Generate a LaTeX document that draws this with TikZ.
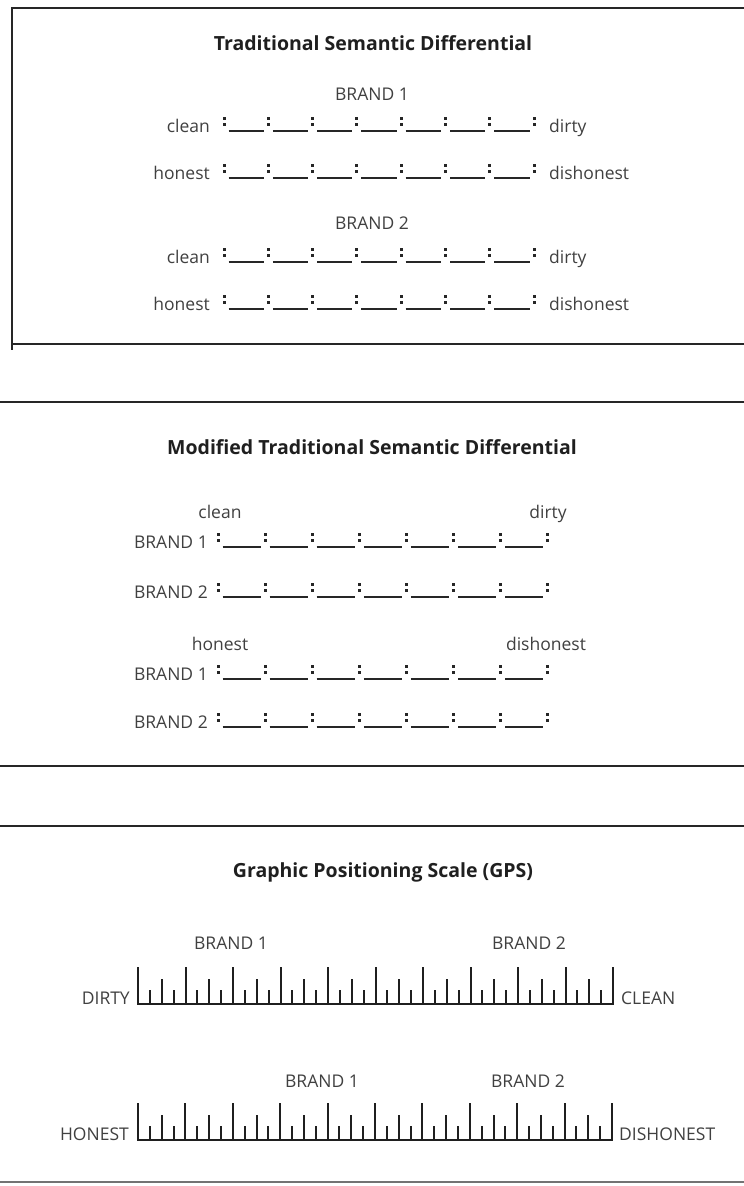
\documentclass[tikz,border=0pt]{standalone}
\usepackage{fontspec}
\setmainfont{Open Sans}
\newcommand{\sdrow}[3]{%
  \foreach \k in {0,...,7}{%
    \fill[cdot] ({#1+\k*#3-1.5},{#2-15.5}) rectangle ({#1+\k*#3+1.5},{#2-12.5});
    \fill[cdot] ({#1+\k*#3-1.5},{#2-9}) rectangle ({#1+\k*#3+1.5},{#2-6});
  }%
  \foreach \k in {0,...,6}{%
    \draw[uline] ({#1+\k*#3+4.5},{#2-1}) -- ({#1+(\k+1)*#3-4.5},{#2-1});
  }%
}
\newcommand{\gpsrow}[3]{%
  \draw[gpsbase] ({#1-1},#2) -- ({#3+1},#2);
  \pgfmathsetmacro{\gstep}{(#3-#1)/40}%
  \foreach \k in {0,...,40}{%
    \pgfmathtruncatemacro{\m}{mod(\k,4)}%
    \ifnum\m=0 \def\h{37}\else\ifnum\m=2 \def\h{25}\else\def\h{14}\fi\fi
    \draw[gpstick] ({#1+\k*\gstep},#2) -- ++(0,-\h);
  }%
}
\begin{document}
\begin{tikzpicture}[x=1pt,y=-1pt,
  frame/.style={line width=2.2pt, draw=black!85},
  lbl/.style={font=\fontsize{17.5}{20}\selectfont, text=black!75, inner sep=0pt},
  ttl/.style={font=\fontsize{19.5}{22}\selectfont\bfseries, text=black!88, inner sep=0pt},
  uline/.style={line width=1.8pt, draw=black!85},
  cdot/.style={fill=black!85},
  gpsbase/.style={line width=2.6pt, draw=black!88},
  gpstick/.style={line width=2pt, draw=black!88}]
\useasboundingbox (0,0) rectangle (744,1186);
\fill[white] (0,0) rectangle (744,1186);

% ---------- Box 1 ----------
\draw[frame] (744,8) -- (12,8) -- (12,350);
\draw[frame, line width=2.6pt] (12,344) -- (744,344);
\node[ttl, anchor=base] (t1) at (373,50) {Traditional Semantic Differential};
\node[lbl, anchor=base] (b1a) at (372,100) {BRAND 1};
\node[lbl, anchor=base east] (c1a) at (210,132) {clean};
\sdrow{224}{132}{44.3}
\node[lbl, anchor=base west] (d1a) at (549,132) {dirty};
\node[lbl, anchor=base east] (h1a) at (210,179) {honest};
\sdrow{224}{179}{44.3}
\node[lbl, anchor=base west] (dh1a) at (549,179) {dishonest};
\node[lbl, anchor=base] (b1b) at (372,229) {BRAND 2};
\node[lbl, anchor=base east] (c1b) at (210,263) {clean};
\sdrow{224}{263}{44.3}
\node[lbl, anchor=base west] (d1b) at (549,263) {dirty};
\node[lbl, anchor=base east] (h1b) at (210,310) {honest};
\sdrow{224}{310}{44.3}
\node[lbl, anchor=base west] (dh1b) at (549,310) {dishonest};

% ---------- Box 2 ----------
\draw[frame, line width=2.6pt] (0,402) -- (744,402);
\draw[frame, line width=2.6pt] (0,766) -- (744,766);
\node[ttl, anchor=base] (t2) at (372,454) {Modified Traditional Semantic Differential};
\node[lbl, anchor=base] (c2) at (220,518) {clean};
\node[lbl, anchor=base] (d2) at (548,518) {dirty};
\node[lbl, anchor=base east] (b2a) at (208,548) {BRAND 1};
\sdrow{218}{548}{47.1}
\node[lbl, anchor=base east] (b2b) at (208,598) {BRAND 2};
\sdrow{218}{598}{47.1}
\node[lbl, anchor=base] (h2) at (220,650) {honest};
\node[lbl, anchor=base] (dh2) at (546,650) {dishonest};
\node[lbl, anchor=base east] (b2c) at (208,680) {BRAND 1};
\sdrow{218}{680}{47.1}
\node[lbl, anchor=base east] (b2d) at (208,728) {BRAND 2};
\sdrow{218}{728}{47.1}

% ---------- Box 3 ----------
\draw[frame, line width=2.6pt] (0,826) -- (744,826);
\draw[line width=1.4pt, draw=black!55] (0,1182) -- (744,1182);
\node[ttl, anchor=base] (t3) at (383,877) {Graphic Positioning Scale (GPS)};
\node[lbl, anchor=base] (g1) at (231,949) {BRAND 1};
\node[lbl, anchor=base] (g2) at (529,949) {BRAND 2};
\node[lbl, anchor=base east] (dy) at (130,1004) {DIRTY};
\gpsrow{138}{1004}{613}
\node[lbl, anchor=base west] (cl) at (621,1004) {CLEAN};
\node[lbl, anchor=base] (g3) at (322,1087) {BRAND 1};
\node[lbl, anchor=base] (g4) at (528,1087) {BRAND 2};
\node[lbl, anchor=base east] (ho) at (129,1140) {HONEST};
\gpsrow{138}{1140}{612}
\node[lbl, anchor=base west] (dho) at (619,1140) {DISHONEST};
\end{tikzpicture}
\end{document}
